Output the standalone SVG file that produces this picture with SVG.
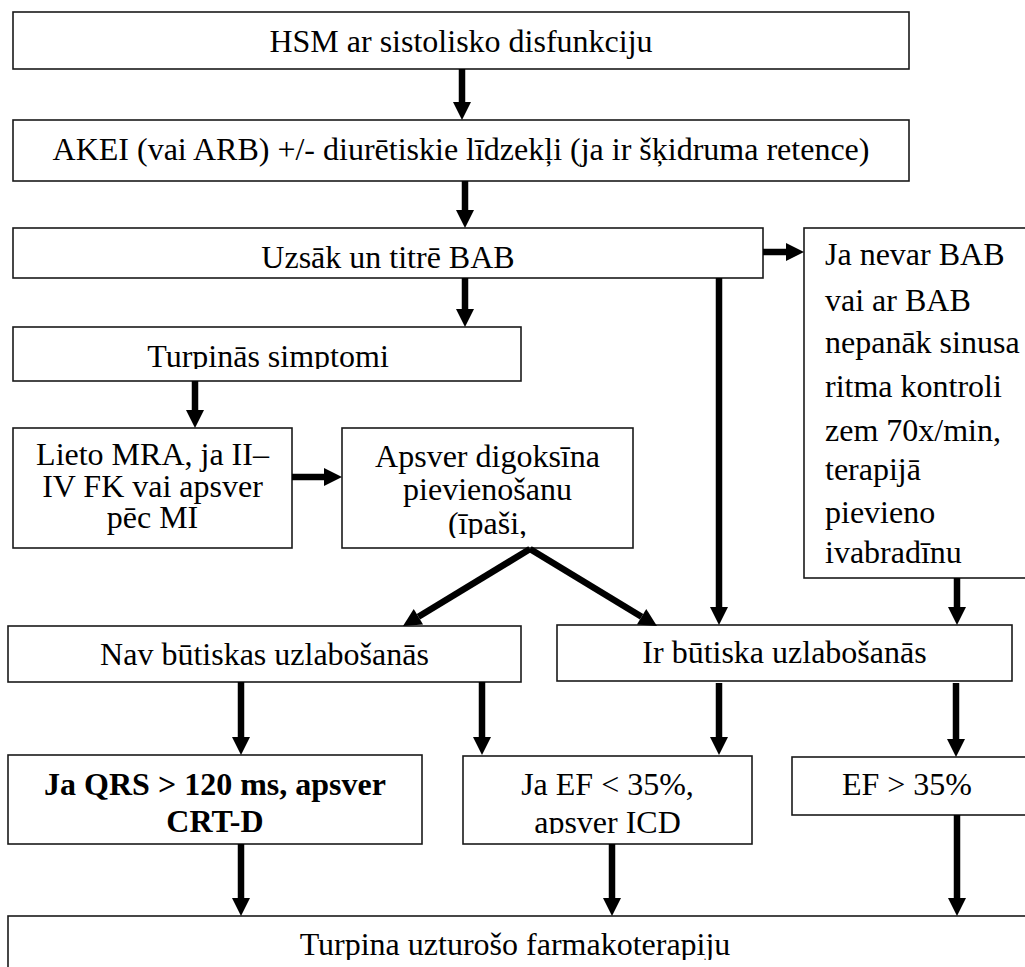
<svg xmlns="http://www.w3.org/2000/svg" width="1025" height="967" viewBox="0 0 1025 967">
<style>
.box{fill:#fff;stroke:#1a1a1a;stroke-width:1.6}
.t{font-family:"Liberation Serif","Times New Roman",serif;font-size:32px;fill:#000}
.c{text-anchor:middle}
.b{font-weight:bold}
.ar{stroke:#000;stroke-width:6.5;fill:none;marker-end:url(#ah)}
</style>
<defs>
<marker id="ah" markerUnits="userSpaceOnUse" markerWidth="20" markerHeight="20" refX="0" refY="9" orient="auto" overflow="visible">
<path d="M0,0 L18,9 L0,18 Z" fill="#000"/>
</marker>
<clipPath id="cp5" clipPathUnits="userSpaceOnUse"><rect x="0" y="300" width="1025" height="69"/></clipPath>
<clipPath id="cp7" clipPathUnits="userSpaceOnUse"><rect x="0" y="400" width="1025" height="138"/></clipPath>
<clipPath id="cp12" clipPathUnits="userSpaceOnUse"><rect x="0" y="740" width="1025" height="94"/></clipPath>
<clipPath id="cp14" clipPathUnits="userSpaceOnUse"><rect x="0" y="900" width="1025" height="60"/></clipPath>
</defs>
<rect width="1025" height="967" fill="#fff"/>
<g id="n1"><rect class="box" x="13" y="12" width="896" height="57"/><text class="t c" x="461" y="52">HSM ar sistolisko disfunkciju</text></g>
<g id="n2"><rect class="box" x="13" y="120" width="896" height="61"/><text class="t c" x="461" y="160">AKEI (vai ARB) +/- diurētiskie līdzekļi (ja ir šķidruma retence)</text></g>
<g id="n3"><rect class="box" x="13" y="228" width="750" height="50"/><text class="t c" x="388" y="268">Uzsāk un titrē BAB</text></g>
<g id="n4"><rect class="box" x="804" y="228" width="240" height="350"/>
<text class="t" x="825" y="265">Ja nevar BAB</text>
<text class="t" x="825" y="311">vai ar BAB</text>
<text class="t" x="825" y="353">nepanāk sinusa</text>
<text class="t" x="825" y="397">ritma kontroli</text>
<text class="t" x="825" y="441">zem 70x/min,</text>
<text class="t" x="825" y="480">terapijā</text>
<text class="t" x="825" y="523">pievieno</text>
<text class="t" x="825" y="563">ivabradīnu</text></g>
<g id="n5"><rect class="box" x="13" y="327" width="508" height="54"/><text class="t c" x="268" y="367" clip-path="url(#cp5)">Turpinās simptomi</text></g>
<g id="n6"><rect class="box" x="13" y="428" width="279" height="120"/>
<text class="t c" x="152.5" y="465">Lieto MRA, ja II–</text>
<text class="t c" x="152.5" y="497">IV FK vai apsver</text>
<text class="t c" x="152.5" y="528">pēc MI</text></g>
<g id="n7"><rect class="box" x="342" y="428" width="291" height="120"/>
<g clip-path="url(#cp7)">
<text class="t c" x="487.5" y="467">Apsver digoksīna</text>
<text class="t c" x="487.5" y="500">pievienošanu</text>
<text class="t c" x="487.5" y="534">(īpaši,</text></g></g>
<g id="n8"><rect class="box" x="8" y="626" width="513" height="56"/><text class="t c" x="264.5" y="665">Nav būtiskas uzlabošanās</text></g>
<g id="n9"><rect class="box" x="557" y="625" width="455" height="56"/><text class="t c" x="784.5" y="663">Ir būtiska uzlabošanās</text></g>
<g id="n10"><rect class="box" x="8" y="755" width="414" height="89"/>
<text class="t c b" x="215" y="795">Ja QRS &gt; 120 ms, apsver</text>
<text class="t c b" x="215" y="832">CRT-D</text></g>
<g id="n11"><rect class="box" x="463" y="756" width="289" height="88"/>
<g clip-path="url(#cp12)">
<text class="t c" x="607.5" y="795">Ja EF &lt; 35%,</text>
<text class="t c" x="607.5" y="833">apsver ICD</text></g></g>
<g id="n12"><rect class="box" x="792" y="757" width="250" height="58"/><text class="t c" x="907" y="795">EF &gt; 35%</text></g>
<g id="n13"><rect class="box" x="8" y="916" width="1034" height="70"/><text class="t c" x="515" y="955" clip-path="url(#cp14)">Turpina uzturošo farmakoterapiju</text></g>
<g id="connectors">
<line class="ar" x1="462" y1="69" x2="462" y2="102"/>
<line class="ar" x1="465" y1="181" x2="465" y2="210"/>
<line class="ar" x1="465" y1="278" x2="465" y2="309"/>
<line class="ar" x1="763" y1="252" x2="786" y2="252"/>
<line class="ar" x1="195" y1="381" x2="195" y2="410"/>
<line class="ar" x1="292" y1="477" x2="324" y2="477"/>
<line class="ar" x1="530" y1="549" x2="418.4" y2="616.7"/>
<line class="ar" x1="530" y1="549" x2="641.6" y2="616.7"/>
<line class="ar" x1="719" y1="278" x2="719" y2="607"/>
<line class="ar" x1="957" y1="578" x2="957" y2="607"/>
<line class="ar" x1="241" y1="682" x2="241" y2="737"/>
<line class="ar" x1="482" y1="682" x2="482" y2="737"/>
<line class="ar" x1="719" y1="683" x2="719" y2="737"/>
<line class="ar" x1="956" y1="683" x2="956" y2="739"/>
<line class="ar" x1="241" y1="844" x2="241" y2="898"/>
<line class="ar" x1="612" y1="844" x2="612" y2="898"/>
<line class="ar" x1="957" y1="815" x2="957" y2="898"/>
</g>
</svg>
